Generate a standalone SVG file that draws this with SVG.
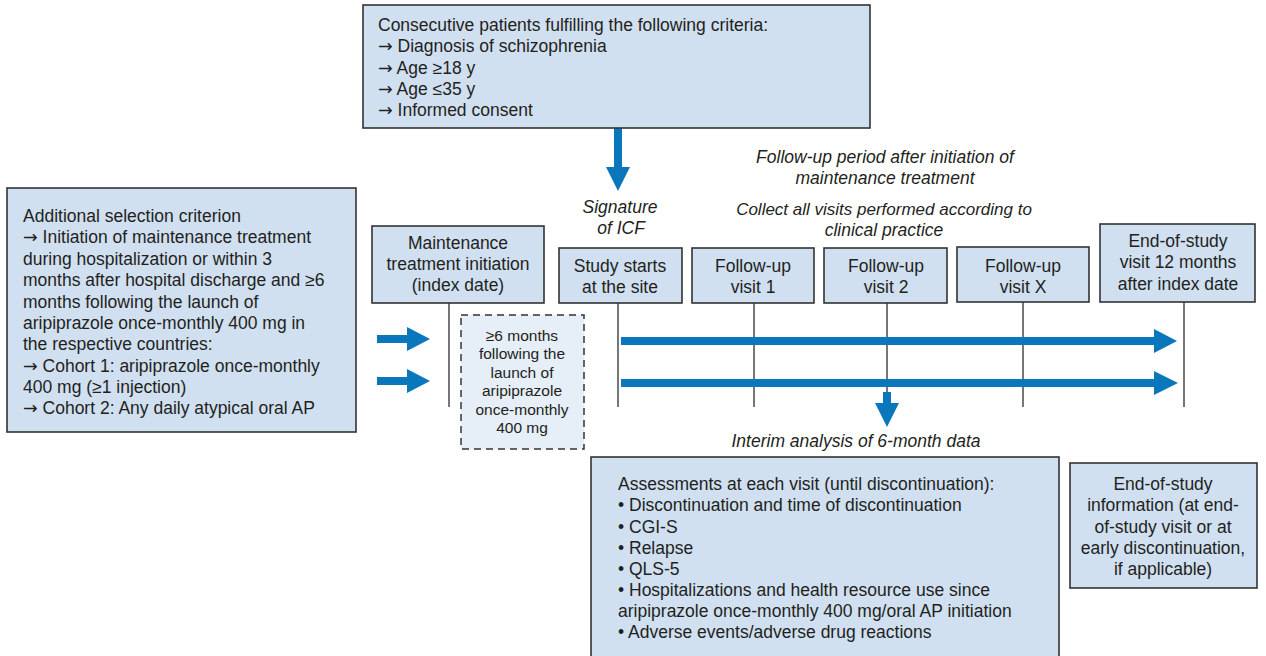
<svg xmlns="http://www.w3.org/2000/svg" width="1266" height="656" viewBox="0 0 1266 656">
<style>
.box{fill:#d0e0f1;stroke:#333;stroke-width:1.6}
.dbox{fill:#e6eef8;stroke:#333;stroke-width:1.5;stroke-dasharray:7,5}
.t{font-family:"Liberation Sans",Arial,sans-serif;font-size:17.5px;fill:#231f20}
.c{text-anchor:middle}
.i{font-style:italic}
.s{font-size:15.5px}
.a{font-family:"DejaVu Sans",sans-serif;font-size:17.5px}
.vl{stroke:#555;stroke-width:1.6;fill:none}
.ar{fill:#0a77bd}
</style>
<rect width="1266" height="656" fill="#fff"/>

<g id="connectors">
  <line class="vl" x1="449" y1="303" x2="449" y2="407"/>
  <line class="vl" x1="618" y1="303" x2="618" y2="407"/>
  <line class="vl" x1="754" y1="303" x2="754" y2="407"/>
  <line class="vl" x1="887" y1="303" x2="887" y2="395"/>
  <line class="vl" x1="1023" y1="302" x2="1023" y2="407"/>
  <line class="vl" x1="1184" y1="302" x2="1184" y2="407"/>
  <polygon class="ar" points="614,128 622,128 622,167 630,167 618,191 606,167 614,167"/>
  <polygon class="ar" points="377,335 407,335 407,327 430,339 407,351 407,343 377,343"/>
  <polygon class="ar" points="377,377 407,377 407,369 430,381 407,393 407,385 377,385"/>
  <polygon class="ar" points="621,337 1154,337 1154,329 1177,341 1154,353 1154,345 621,345"/>
  <polygon class="ar" points="621,379 1154,379 1154,371 1178,383 1154,395 1154,387 621,387"/>
  <polygon class="ar" points="883,392 891,392 891,403 899,403 887,427 875,403 883,403"/>
</g>

<g id="top-criteria">
  <rect class="box" x="363" y="5" width="507" height="123"/>
  <text class="t" x="378" y="31">Consecutive patients fulfilling the following criteria:</text>
  <text class="t" x="378" y="52"><tspan class="a">→</tspan> Diagnosis of schizophrenia</text>
  <text class="t" x="378" y="74"><tspan class="a">→</tspan> Age ≥18 y</text>
  <text class="t" x="378" y="95"><tspan class="a">→</tspan> Age ≤35 y</text>
  <text class="t" x="378" y="116"><tspan class="a">→</tspan> Informed consent</text>
</g>

<g id="signature-label">
  <text class="t c i" x="620" y="213">Signature</text>
  <text class="t c i" x="621" y="234">of ICF</text>
</g>

<g id="followup-label">
  <text class="t c i" x="885" y="163">Follow-up period after initiation of</text>
  <text class="t c i" x="885" y="184">maintenance treatment</text>
  <text class="t c i" x="884" y="215" style="font-size:17px">Collect all visits performed according to</text>
  <text class="t c i" x="884" y="236">clinical practice</text>
</g>

<g id="additional-criterion">
  <rect class="box" x="7" y="188" width="349" height="244"/>
  <text class="t" x="23" y="222">Additional selection criterion</text>
  <text class="t" x="23" y="243"><tspan class="a">→</tspan> Initiation of maintenance treatment</text>
  <text class="t" x="23" y="265">during hospitalization or within 3</text>
  <text class="t" x="23" y="286">months after hospital discharge and ≥6</text>
  <text class="t" x="23" y="308">months following the launch of</text>
  <text class="t" x="23" y="329">aripiprazole once-monthly 400 mg in</text>
  <text class="t" x="23" y="350">the respective countries:</text>
  <text class="t" x="23" y="372"><tspan class="a">→</tspan> Cohort 1: aripiprazole once-monthly</text>
  <text class="t" x="23" y="393">400 mg (≥1 injection)</text>
  <text class="t" x="23" y="414"><tspan class="a">→</tspan> Cohort 2: Any daily atypical oral AP</text>
</g>

<g id="maintenance-initiation">
  <rect class="box" x="372" y="226" width="172" height="77"/>
  <text class="t c" x="458" y="249">Maintenance</text>
  <text class="t c" x="458" y="270">treatment initiation</text>
  <text class="t c" x="458" y="291">(index date)</text>
</g>

<g id="six-months">
  <rect class="dbox" x="461" y="315" width="123" height="134"/>
  <text class="t c s" x="522" y="341">≥6 months</text>
  <text class="t c s" x="522" y="359">following the</text>
  <text class="t c s" x="522" y="378">launch of</text>
  <text class="t c s" x="522" y="396">aripiprazole</text>
  <text class="t c s" x="522" y="415">once-monthly</text>
  <text class="t c s" x="522" y="433">400 mg</text>
</g>

<g id="study-start">
  <rect class="box" x="559" y="248" width="123" height="55"/>
  <text class="t c" x="620" y="272">Study starts</text>
  <text class="t c" x="620" y="293">at the site</text>
</g>

<g id="visit-1">
  <rect class="box" x="692" y="248" width="122" height="55"/>
  <text class="t c" x="753" y="272">Follow-up</text>
  <text class="t c" x="753" y="293">visit 1</text>
</g>

<g id="visit-2">
  <rect class="box" x="824" y="248" width="123" height="55"/>
  <text class="t c" x="886" y="272">Follow-up</text>
  <text class="t c" x="886" y="293">visit 2</text>
</g>

<g id="visit-x">
  <rect class="box" x="957" y="247" width="132" height="55"/>
  <text class="t c" x="1023" y="272">Follow-up</text>
  <text class="t c" x="1023" y="293">visit X</text>
</g>

<g id="end-of-study-visit">
  <rect class="box" x="1100" y="224" width="155" height="78"/>
  <text class="t c" x="1178" y="247">End-of-study</text>
  <text class="t c" x="1178" y="268">visit 12 months</text>
  <text class="t c" x="1178" y="290">after index date</text>
</g>

<g id="interim-label">
  <text class="t c i" x="856" y="447">Interim analysis of 6-month data</text>
</g>

<g id="assessments">
  <rect class="box" x="591" y="457" width="468" height="205"/>
  <text class="t" x="618" y="490">Assessments at each visit (until discontinuation):</text>
  <text class="t" x="618" y="511">• Discontinuation and time of discontinuation</text>
  <text class="t" x="618" y="533">• CGI-S</text>
  <text class="t" x="618" y="554">• Relapse</text>
  <text class="t" x="618" y="575">• QLS-5</text>
  <text class="t" x="618" y="596">• Hospitalizations and health resource use since</text>
  <text class="t" x="618" y="617">aripiprazole once-monthly 400 mg/oral AP initiation</text>
  <text class="t" x="618" y="638">• Adverse events/adverse drug reactions</text>
</g>

<g id="end-of-study-info">
  <rect class="box" x="1070" y="463" width="187" height="125"/>
  <text class="t c" x="1163" y="490">End-of-study</text>
  <text class="t c" x="1163" y="511">information (at end-</text>
  <text class="t c" x="1163" y="533">of-study visit or at</text>
  <text class="t c" x="1163" y="554">early discontinuation,</text>
  <text class="t c" x="1163" y="575">if applicable)</text>
</g>
</svg>
